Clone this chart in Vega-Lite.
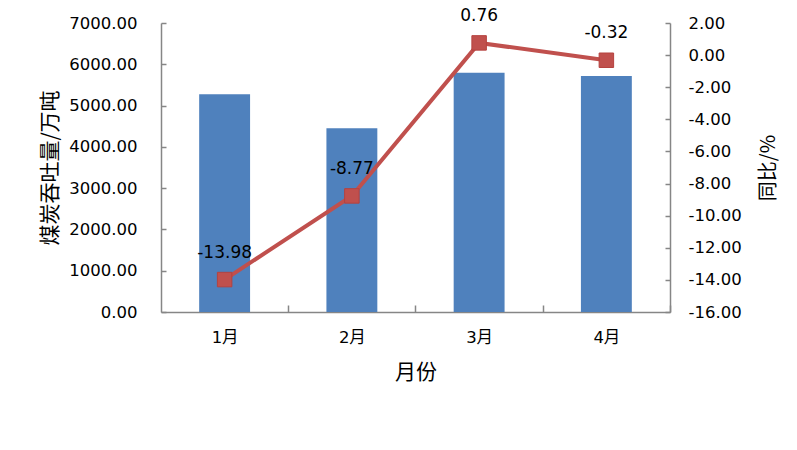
{
  "$schema": "https://vega.github.io/schema/vega-lite/v6.json",
  "autosize": {"type": "none"},
  "width": 509,
  "height": 289,
  "padding": {"left": 161, "top": 23, "right": 127, "bottom": 138},
  "background": "white",
  "config": {
    "view": {"stroke": null},
    "axis": {
      "grid": false,
      "domainColor": "#868686",
      "domainWidth": 1.5,
      "tickColor": "#868686",
      "tickWidth": 1.5,
      "labelFont": "DejaVu Sans, Noto Sans CJK SC",
      "labelFontSize": 16.5,
      "labelColor": "#000000",
      "labelOverlap": false,
      "labelBound": false,
      "labelFlush": false,
      "titleFont": "Noto Sans CJK SC",
      "titleFontSize": 21,
      "titleFontWeight": "normal",
      "titleColor": "#000000"
    }
  },
  "data": {
    "values": [
      {"month": "1月", "throughput": 5273, "yoy": -13.98, "label": "-13.98"},
      {"month": "2月", "throughput": 4449, "yoy": -8.77, "label": "-8.77"},
      {"month": "3月", "throughput": 5797, "yoy": 0.76, "label": "0.76"},
      {"month": "4月", "throughput": 5716, "yoy": -0.32, "label": "-0.32"}
    ]
  },
  "encoding": {
    "x": {
      "field": "month",
      "type": "nominal",
      "sort": null,
      "scale": {"paddingInner": 0.6, "paddingOuter": 0.3},
      "axis": {
        "title": "月份",
        "labelAngle": 0,
        "tickOffset": 63.6,
        "labelOffset": -63.6,
        "tickSize": -7,
        "labelPadding": 24,
        "titlePadding": 16
      }
    }
  },
  "layer": [
    {
      "mark": {"type": "bar", "color": "#4F81BD"},
      "encoding": {
        "y": {
          "field": "throughput",
          "type": "quantitative",
          "scale": {"domain": [0, 7000], "nice": false},
          "axis": {
            "title": "煤炭吞吐量/万吨",
            "values": [0, 1000, 2000, 3000, 4000, 5000, 6000, 7000],
            "labelExpr": "replace(format(datum.value, '.2f'), '\u2212', '-')",
            "tickSize": -5,
            "labelPadding": 29,
            "titlePadding": 8
          }
        }
      }
    },
    {
      "encoding": {
        "y": {
          "field": "yoy",
          "type": "quantitative",
          "scale": {"domain": [-16, 2], "nice": false},
          "axis": {
            "orient": "right",
            "title": "同比/%",
            "titleAngle": 270,
            "titleFontSize": 20,
            "values": [-16, -14, -12, -10, -8, -6, -4, -2, 0, 2],
            "labelExpr": "replace(format(datum.value, '.2f'), '\u2212', '-')",
            "tickSize": -5,
            "labelPadding": 23,
            "titlePadding": 37
          }
        }
      },
      "layer": [
        {
          "mark": {"type": "line", "color": "#C0504D", "strokeWidth": 4}
        },
        {
          "mark": {"type": "point", "shape": "square", "size": 210, "filled": true, "color": "#C0504D", "stroke": "#B5423F", "strokeWidth": 1, "opacity": 1}
        },
        {
          "mark": {"type": "text", "dy": -27, "fontSize": 17, "font": "DejaVu Sans", "color": "#000000", "baseline": "middle"},
          "encoding": {
            "text": {"field": "label", "type": "nominal"}
          }
        }
      ]
    }
  ],
  "resolve": {"scale": {"y": "independent"}}
}
